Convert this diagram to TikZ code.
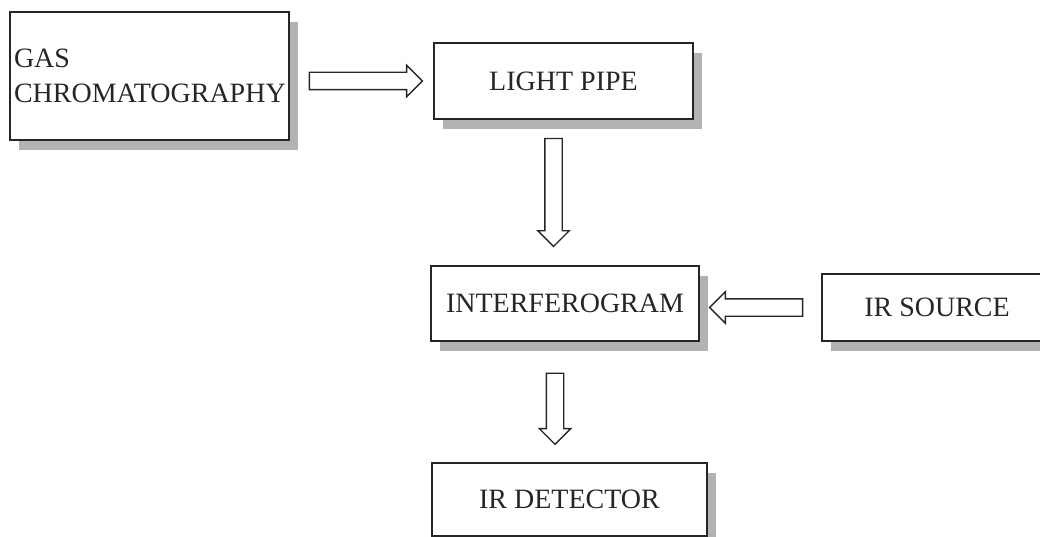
\documentclass[tikz,border=0pt]{standalone}
\usepackage{fontspec}
\setmainfont{Liberation Serif}
\usetikzlibrary{shapes.arrows, shadows}

\begin{document}
\begin{tikzpicture}[x=1pt, y=-1pt,
        box/.style={draw=black!85, line width=1.6pt, fill=white, inner sep=4pt,
            text=black!85, font=\fontsize{28}{35}\selectfont,
            drop shadow={shadow xshift=9pt, shadow yshift=-10pt, fill=black!30, opacity=1}},
        blockarrow/.style={single arrow, draw=black!85, line width=1.4pt, fill=white,
            sloped, allow upside down, inner xsep=0pt, inner ysep=8pt,
            single arrow head extend=7pt, single arrow tip angle=90}]
        \useasboundingbox (0,0) rectangle (1040,537);

		\node at (149.5, 76) (gas_chrom) [box, minimum width=279pt, minimum height=128pt,
            text width=271pt, align=left] {GAS\\CHROMATOGRAPHY};
        \node at (563.5, 81) (light_pipe) [box, minimum width=259pt, minimum height=76pt] {LIGHT PIPE};
        \path (gas_chrom.east |- light_pipe.west) -- node[blockarrow, minimum height=113pt] {} (light_pipe.west);

        \node at (565, 303.5) (interf) [box, minimum width=268pt, minimum height=75pt] {INTERFEROGRAM};
        \path ([xshift=-10pt]light_pipe.south) -- node[blockarrow, minimum height=108pt, pos=0.47] {}
            ([xshift=-10pt]light_pipe.south |- interf.north);

        \node at (937, 307.5) (ir_src) [box, minimum width=230pt, minimum height=67pt] {IR SOURCE};
        \path (ir_src.west) -- node[blockarrow, minimum height=93pt] {} (ir_src.west -| interf.east);

        \node at (569.5, 499.5) (ir_det) [box, minimum width=275pt, minimum height=73pt] {IR DETECTOR};
        \path ([xshift=-10pt]interf.south) -- node[blockarrow, minimum height=71pt, pos=0.52] {}
            ([xshift=-10pt]interf.south |- ir_det.north);
	\end{tikzpicture}
\end{document}
